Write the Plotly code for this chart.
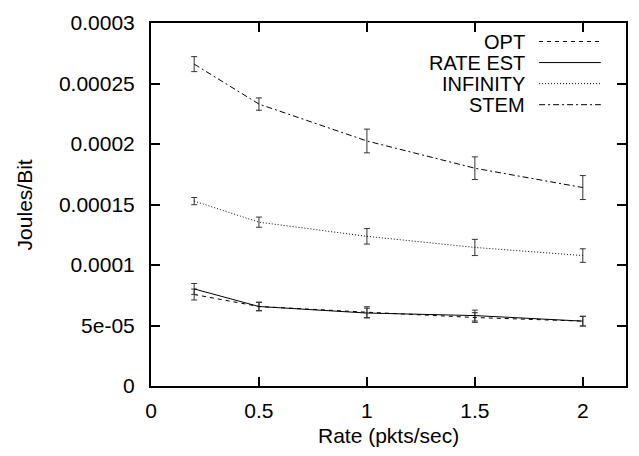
import plotly.graph_objects as go

rate = [0.2, 0.5, 1.0, 1.5, 2.0]

opt = [7.56e-05, 6.57e-05, 6.10e-05, 5.66e-05, 5.36e-05]
opt_err = [4.5e-06, 3.5e-06, 4.5e-06, 4.0e-06, 4.0e-06]

rate_est = [8.02e-05, 6.57e-05, 6.03e-05, 5.82e-05, 5.36e-05]
rate_est_err = [4.5e-06, 3.5e-06, 4.0e-06, 4.5e-06, 4.0e-06]

infinity = [1.528e-04, 1.354e-04, 1.237e-04, 1.145e-04, 1.078e-04]
infinity_err = [3.0e-06, 4.2e-06, 6.4e-06, 6.7e-06, 5.6e-06]

stem = [2.66e-04, 2.33e-04, 2.025e-04, 1.80e-04, 1.64e-04]
stem_err = [6.2e-06, 5.1e-06, 9.8e-06, 9.4e-06, 9.9e-06]

series = [
    ("OPT", opt, opt_err, "4px,4px"),
    ("RATE EST", rate_est, rate_est_err, "solid"),
    ("INFINITY", infinity, infinity_err, "1px,2px"),
    ("STEM", stem, stem_err, "6px,3px,2px,3px"),
]

x_ticks = [0, 0.5, 1, 1.5, 2]
x_ticktext = ["0", "0.5", "1", "1.5", "2"]
y_ticks = [0, 5e-05, 1e-04, 1.5e-04, 2e-04, 2.5e-04, 3e-04]
y_ticktext = ["0", "5e-05", "0.0001", "0.00015", "0.0002", "0.00025", "0.0003"]

FONT = "Liberation Sans, Arial, sans-serif"
FS = 21
LEG_FS = 20

fig = go.Figure()
for name, vals, errs, dash in series:
    fig.add_trace(go.Scatter(
        x=rate, y=vals, name=name, mode="lines",
        line=dict(color="black", width=1, dash=dash),
        error_y=dict(type="data", array=errs, visible=True,
                     color="#333333", thickness=1, width=3),
        showlegend=False,
    ))

# gnuplot-style legend: text right-aligned, line sample on the right
row_y = [0.949, 0.891, 0.833, 0.775]
for (name, vals, errs, dash), yy in zip(series, row_y):
    fig.add_annotation(x=0.790, y=yy, xref="paper", yref="paper",
                       text=name, showarrow=False, xanchor="right",
                       yanchor="middle", borderpad=0,
                       font=dict(family=FONT, size=LEG_FS, color="black"))
    fig.add_shape(type="line", xref="paper", yref="paper",
                  x0=0.817, x1=0.947, y0=yy, y1=yy,
                  line=dict(color="black", width=1, dash=dash))

# axis titles
fig.add_annotation(x=-0.2655, y=0.5, xref="paper", yref="paper",
                   text="Joules/Bit", showarrow=False, textangle=-90,
                   xanchor="center", yanchor="middle",
                   font=dict(family=FONT, size=FS, color="black"))
fig.add_annotation(x=0.5, y=-0.137, xref="paper", yref="paper",
                   text="Rate (pkts/sec)", showarrow=False,
                   xanchor="center", yanchor="middle",
                   font=dict(family=FONT, size=FS, color="black"))

fig.update_layout(
    width=639, height=456, autosize=False,
    margin=dict(l=151, r=11, t=13, b=70),
    paper_bgcolor="white", plot_bgcolor="white",
    font=dict(family=FONT, size=FS, color="black"),
)
fig.update_xaxes(
    range=[0, 2.2], tickvals=x_ticks, ticktext=x_ticktext,
    ticks="inside", ticklen=9, tickwidth=1.5, tickcolor="black",
    showline=True, linecolor="black", linewidth=2, mirror="allticks",
    showgrid=False, zeroline=False,
    tickfont=dict(family=FONT, size=FS),
    ticklabelstandoff=5,
)
fig.update_yaxes(
    range=[0, 3e-04], tickvals=y_ticks, ticktext=y_ticktext,
    ticks="inside", ticklen=9, tickwidth=1.5, tickcolor="black",
    showline=True, linecolor="black", linewidth=2, mirror="allticks",
    showgrid=False, zeroline=False,
    tickfont=dict(family=FONT, size=FS),
    ticklabelstandoff=10,
)

fig.write_html("out.html", config={"displayModeBar": False},
               post_script="document.body.style.margin='0';document.body.style.overflow='hidden';")
